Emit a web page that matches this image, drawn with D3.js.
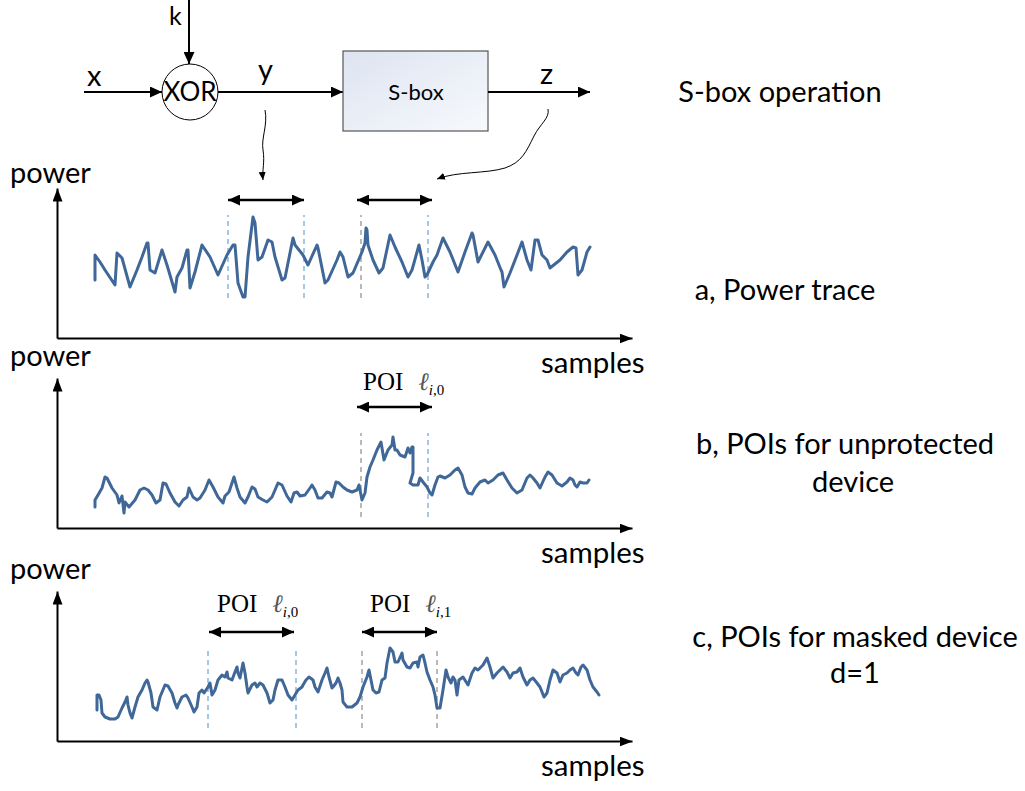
<!DOCTYPE html>
<html>
<head>
<meta charset="utf-8">
<script src="https://cdn.jsdelivr.net/npm/d3@7"></script>
<style>
  body { margin: 0; background: #fff; }
  svg text { font-family: Lato, "Open Sans", sans-serif; fill: #000; }
  .serif { font-family: "Liberation Serif", "DejaVu Serif", serif; }
</style>
</head>
<body>
<svg id="fig" width="1025" height="791"></svg>
<script>
// ---- power traces: [sample, power] ----
const traceA = [[38,58],[38,83],[43,76],[48,68],[58,53],[60,85],[65,80],[73,51],[80,68],[85,81],[90,95],[91,95],[93,68],[98,65],[105,88],[110,73],[118,46],[120,61],[125,70],[130,88],[131,88],[133,50],[138,66],[145,93],[153,81],[161,63],[170,83],[176,93],[178,93],[181,55],[186,41],[188,41],[191,81],[196,121],[198,115],[201,78],[205,81],[211,98],[215,96],[218,81],[225,58],[228,60],[236,100],[238,93],[246,83],[251,73],[260,93],[261,90],[268,55],[271,58],[280,78],[283,86],[286,81],[291,61],[296,65],[305,86],[308,95],[309,110],[310,108],[311,93],[316,78],[322,65],[326,70],[333,103],[338,91],[345,76],[351,61],[355,68],[362,93],[365,78],[368,61],[370,63],[376,76],[380,83],[386,100],[393,86],[401,66],[408,86],[415,105],[416,103],[421,76],[431,96],[438,83],[444,68],[445,66],[447,51],[453,65],[460,83],[465,96],[470,78],[474,68],[478,98],[481,98],[485,83],[490,78],[493,70],[503,78],[510,86],[516,91],[519,90],[521,63],[525,68],[530,86],[533,91]];

const traceB = [[38,21],[38,28],[41,33],[45,40],[48,51],[50,50],[55,40],[60,33],[62,25],[65,32],[67,15],[68,26],[72,21],[78,28],[83,38],[87,40],[91,38],[95,33],[99,25],[103,28],[106,45],[109,44],[113,35],[118,26],[122,22],[126,28],[130,31],[132,40],[136,31],[140,28],[143,30],[148,38],[152,48],[156,41],[161,31],[166,25],[168,32],[172,36],[177,51],[180,40],[183,31],[188,25],[191,31],[195,41],[198,39],[201,31],[206,28],[210,26],[215,31],[221,45],[225,43],[230,32],[234,26],[237,35],[240,36],[243,32],[248,33],[253,40],[255,43],[258,38],[261,30],[265,30],[270,36],[273,35],[275,31],[279,46],[282,45],[286,41],[290,38],[295,36],[300,38],[302,43],[304,33],[305,28],[308,35],[310,51],[313,61],[316,68],[320,78],[324,86],[327,68],[331,78],[335,83],[336,91],[338,78],[340,78],[343,73],[348,71],[351,80],[353,75],[355,81],[356,81],[356,55],[353,45],[356,43],[361,43],[363,50],[366,46],[370,41],[373,35],[375,33],[378,43],[381,51],[383,52],[388,50],[393,53],[398,58],[401,60],[405,53],[408,41],[411,35],[415,34],[418,40],[423,46],[428,48],[431,45],[436,48],[441,53],[446,55],[450,48],[455,40],[460,35],[465,38],[470,50],[473,53],[476,50],[480,45],[483,40],[488,51],[491,56],[495,53],[500,45],[505,42],[510,46],[513,50],[516,48],[518,43],[520,41],[523,46],[526,45],[530,45],[532,48]];

const traceC = [[40,31],[40,46],[42,46],[44,41],[45,28],[48,24],[53,22],[58,22],[61,24],[65,33],[68,39],[70,44],[71,36],[73,28],[75,23],[78,34],[81,44],[85,51],[88,58],[90,61],[91,59],[94,48],[96,34],[100,31],[103,44],[108,56],[111,55],[115,48],[118,38],[120,33],[121,36],[125,44],[129,46],[131,43],[135,34],[137,29],[140,34],[142,48],[145,51],[147,48],[149,51],[151,54],[153,58],[155,46],[158,51],[161,61],[165,66],[168,64],[170,69],[171,63],[175,61],[178,69],[180,74],[181,68],[183,63],[186,78],[188,68],[190,54],[191,48],[195,56],[198,58],[200,54],[203,58],[206,56],[210,48],[213,38],[216,41],[218,51],[221,61],[225,61],[228,54],[231,46],[235,41],[238,46],[241,51],[245,54],[246,56],[249,61],[252,64],[256,61],[258,54],[261,49],[265,61],[268,68],[270,73],[272,64],[275,53],[276,54],[279,58],[281,63],[283,58],[285,51],[286,39],[290,34],[295,34],[300,38],[303,44],[306,54],[310,64],[312,71],[314,61],[316,51],[319,48],[322,49],[325,61],[328,63],[330,78],[333,93],[336,89],[338,79],[341,79],[345,88],[346,81],[350,74],[353,73],[356,78],[360,79],[361,74],[363,84],[366,86],[368,78],[370,69],[373,61],[376,54],[378,46],[380,33],[383,33],[386,51],[389,71],[391,64],[394,58],[396,64],[398,61],[400,46],[402,61],[406,64],[411,56],[415,68],[418,73],[421,71],[426,76],[430,83],[433,74],[436,63],[440,68],[443,71],[446,74],[450,69],[453,63],[456,68],[460,69],[463,73],[466,64],[470,56],[473,61],[476,63],[480,58],[483,54],[487,44],[490,48],[493,61],[496,71],[500,68],[503,59],[506,66],[510,68],[513,71],[516,73],[519,68],[521,66],[524,74],[526,76],[530,71],[533,61],[536,54],[540,49],[542,46]];

// ---- dashed sample markers: [sample, kind] ----
const markersA = [[171, "blue"], [247, "blue"], [304, "grey"], [371, "blue"]];
const markersB = [[304, "grey"], [371, "blue"]];
const markersC = [[151, "blue"], [239, "blue"], [305, "grey"], [380, "grey"]];
const markerSpanA = [40, 123];
const markerSpanB = [11, 95];
const markerSpanC = [13, 93];

// ---- double-arrow windows: [from sample, to sample] ----
const windowsA = [[171, 247], [300, 375]];
const windowsB = [[300, 375]];
const windowsC = [[152, 237], [305, 380]];

// ---- POI labels: [start sample, leakage index] ----
const poiB = [[306, "0"]];
const poiC = [[160, "0"], [313, "1"]];

// ---- captions ----
const captionsRight = [
  ["S-box operation", 780, 102],
  ["a, Power trace", 785, 300],
  ["b, POIs for unprotected", 845, 454],
  ["device", 853, 492],
  ["c, POIs for masked device", 855, 647],
  ["d=1", 855, 683]
];

const TRACE_COLOR = "#3f6798";
const DASH_COLORS = { blue: "#6aa3d8", grey: "#8c8c8c" };

const svg = d3.select("#fig");
const defs = svg.append("defs");

function arrowMarker(id, len, wid) {
  defs.append("marker")
    .attr("id", id)
    .attr("markerUnits", "userSpaceOnUse")
    .attr("viewBox", `0 0 ${len} ${wid}`)
    .attr("refX", len).attr("refY", wid / 2)
    .attr("markerWidth", len).attr("markerHeight", wid)
    .attr("orient", "auto-start-reverse")
    .append("path")
    .attr("d", `M0,0L${len},${wid / 2}L0,${wid}Z`)
    .attr("fill", "#000");
}
arrowMarker("headL", 13, 10);
arrowMarker("headM", 12, 11);
arrowMarker("headS", 8, 7);

const grad = defs.append("linearGradient").attr("id", "boxFill")
  .attr("x1", "0").attr("y1", "0").attr("x2", "1").attr("y2", "1");
grad.append("stop").attr("offset", "0").attr("stop-color", "#dde4f1");
grad.append("stop").attr("offset", "1").attr("stop-color", "#f7f9fc");

// ---- block diagram: x, k -> XOR -> y -> S-box -> z ----
const diagram = svg.append("g");
const lineY = 92;
diagram.append("text").text("x").attr("x", 87).attr("y", 86).style("font-size", "29px");
diagram.append("line").attr("x1", 84).attr("y1", lineY).attr("x2", 162).attr("y2", lineY)
  .attr("stroke", "#000").attr("stroke-width", 2).attr("marker-end", "url(#headM)");
diagram.append("text").text("k").attr("x", 169).attr("y", 25).style("font-size", "25px");
diagram.append("line").attr("x1", 189).attr("y1", 0).attr("x2", 189).attr("y2", 64)
  .attr("stroke", "#000").attr("stroke-width", 2).attr("marker-end", "url(#headM)");
diagram.append("circle").attr("cx", 190).attr("cy", lineY).attr("r", 28)
  .attr("fill", "#fff").attr("stroke", "#000").attr("stroke-width", 1);
diagram.append("text").text("XOR").attr("x", 190).attr("y", lineY + 9)
  .attr("text-anchor", "middle").style("font-size", "26px");
diagram.append("line").attr("x1", 218).attr("y1", lineY).attr("x2", 343).attr("y2", lineY)
  .attr("stroke", "#000").attr("stroke-width", 2).attr("marker-end", "url(#headM)");
diagram.append("text").text("y").attr("x", 258).attr("y", 80).style("font-size", "29px");
diagram.append("rect").attr("x", 343).attr("y", 51).attr("width", 145).attr("height", 80)
  .attr("fill", "url(#boxFill)").attr("stroke", "#555").attr("stroke-width", 1.2);
diagram.append("text").text("S-box").attr("x", 416).attr("y", 100)
  .attr("text-anchor", "middle").style("font-size", "22px");
diagram.append("line").attr("x1", 488).attr("y1", lineY).attr("x2", 590).attr("y2", lineY)
  .attr("stroke", "#000").attr("stroke-width", 2).attr("marker-end", "url(#headM)");
diagram.append("text").text("z").attr("x", 540).attr("y", 84).style("font-size", "29px");

// wavy pointers from y and z down to the trace windows
diagram.append("path")
  .attr("d", "M265,110 C268,125 261,138 263,150 C265,162 262,170 263,180")
  .attr("fill", "none").attr("stroke", "#000").attr("stroke-width", 1)
  .attr("marker-end", "url(#headS)");
diagram.append("path")
  .attr("d", "M548,109 C550,118 540,124 534,136 C526,152 522,162 505,168 C485,174 458,171 437,179")
  .attr("fill", "none").attr("stroke", "#000").attr("stroke-width", 1)
  .attr("marker-end", "url(#headS)");

// ---- trace panels ----
const x = d3.scaleLinear().domain([0, 575]).range([57, 632]);

const panels = [
  { bottom: 338, trace: traceA, markers: markersA, span: markerSpanA, windows: windowsA, winPower: 138, poi: [], powerY: 183, samplesY: 373 },
  { bottom: 528, trace: traceB, markers: markersB, span: markerSpanB, windows: windowsB, winPower: 121, poi: poiB, poiPower: 138, powerY: 366, samplesY: 563 },
  { bottom: 741, trace: traceC, markers: markersC, span: markerSpanC, windows: windowsC, winPower: 109, poi: poiC, poiPower: 129, powerY: 579, samplesY: 776 }
];

panels.forEach(p => {
  const y = d3.scaleLinear().domain([0, 150]).range([p.bottom, p.bottom - 150]);
  const g = svg.append("g");

  // axes with arrowheads
  const xAxis = g.append("g").attr("transform", `translate(0,${p.bottom})`)
    .call(d3.axisBottom(x).tickValues([]).tickSizeOuter(0));
  const yAxis = g.append("g").attr("transform", `translate(${x(0)},0)`)
    .call(d3.axisLeft(y).tickValues([]).tickSizeOuter(0));
  [xAxis, yAxis].forEach(a => a.select(".domain")
    .attr("stroke", "#000").attr("stroke-width", 2)
    .attr("marker-end", "url(#headL)"));

  g.append("text").text("power").attr("x", 10).attr("y", p.powerY).style("font-size", "29px");
  g.append("text").text("samples").attr("x", 541).attr("y", p.samplesY).style("font-size", "29.5px");

  // dashed sample markers
  g.selectAll(".marker").data(p.markers).join("line")
    .attr("x1", d => x(d[0])).attr("x2", d => x(d[0]))
    .attr("y1", y(p.span[0])).attr("y2", y(p.span[1]))
    .attr("stroke", d => DASH_COLORS[d[1]]).attr("stroke-width", 1.2)
    .attr("stroke-dasharray", "5,4");

  // the trace
  g.append("path").datum(p.trace)
    .attr("d", d3.line().x(d => x(d[0])).y(d => y(d[1])))
    .attr("fill", "none").attr("stroke", TRACE_COLOR)
    .attr("stroke-width", 3).attr("stroke-linejoin", "round").attr("stroke-linecap", "round");

  // double-headed windows
  g.selectAll(".win").data(p.windows).join("line")
    .attr("x1", d => x(d[0])).attr("x2", d => x(d[1]))
    .attr("y1", y(p.winPower)).attr("y2", y(p.winPower))
    .attr("stroke", "#000").attr("stroke-width", 2.5)
    .attr("marker-start", "url(#headM)").attr("marker-end", "url(#headM)");

  // POI labels
  p.poi.forEach(([s, idx]) => {
    const t = g.append("text").attr("class", "serif")
      .attr("x", x(s)).attr("y", y(p.poiPower)).style("font-size", "25px");
    t.append("tspan").text("POI");
    t.append("tspan").text("ℓ").attr("dx", 15).style("font-style", "italic").style("fill", "#555");
    t.append("tspan").text("i").attr("dy", 5).style("font-size", "15px").style("font-style", "italic");
    t.append("tspan").text("," + idx).style("font-size", "15px");
  });
});

// ---- captions on the right ----
svg.selectAll(".caption").data(captionsRight).join("text")
  .text(d => d[0]).attr("x", d => d[1]).attr("y", d => d[2])
  .attr("text-anchor", "middle").style("font-size", "29px");
</script>
</body>
</html>
